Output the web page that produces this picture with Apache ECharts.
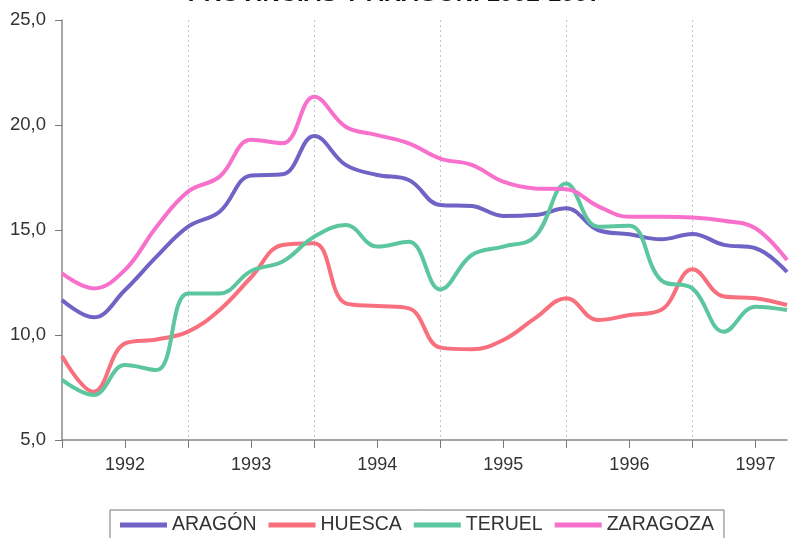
<!DOCTYPE html>
<html>
<head>
<meta charset="utf-8">
<script src="https://cdn.jsdelivr.net/npm/echarts@6/dist/echarts.min.js"></script>
<style>
  html, body { margin: 0; padding: 0; background: #fff; }
  #chart { width: 789px; height: 538px; }
</style>
</head>
<body>
<div id="chart"></div>
<script>
// trimestres 1992-1997
const years = ['1992', '1993', '1994', '1995', '1996', '1997'];
const quarters = [];
years.forEach(y => { ['I', 'II', 'III', 'IV'].forEach(q => quarters.push(y + '-' + q)); });

const aragon = [11.67, 10.84, 12.14, 13.73, 15.16, 15.87, 17.6, 17.65, 19.48, 18.1, 17.62, 17.38,
                16.19, 16.14, 15.67, 15.71, 16.03, 15.0, 14.8, 14.56, 14.81, 14.29, 14.13, 13.0];
const huesca = [9.0, 7.3, 9.6, 9.79, 10.16, 11.19, 12.75, 14.29, 14.37, 11.51, 11.38, 11.27,
                9.4, 9.32, 9.76, 10.79, 11.75, 10.71, 10.95, 11.19, 13.13, 11.83, 11.75, 11.43];
const teruel = [7.86, 7.14, 8.57, 8.33, 11.98, 11.98, 13.05, 13.5, 14.68, 15.24, 14.21, 14.44,
                12.17, 13.81, 14.21, 14.68, 17.22, 15.16, 15.2, 12.62, 12.22, 10.16, 11.35, 11.19];
const zaragoza = [12.94, 12.22, 13.1, 15.16, 16.83, 17.54, 19.3, 19.13, 21.35, 19.92, 19.52, 19.13,
                  18.4, 18.1, 17.3, 16.98, 16.94, 16.14, 15.63, 15.63, 15.6, 15.44, 15.08, 13.57];

const yTicks = { min: 5, max: 25, step: 5 };

const chart = echarts.init(document.getElementById('chart'));

function serie(name, data, color) {
  return {
    name: name,
    type: 'line',
    data: data,
    smooth: 0.4,
    symbol: 'none',
    lineStyle: { color: color, width: 4 },
    itemStyle: { color: color }
  };
}

chart.setOption({
  animation: false,
  title: {
    text: 'PROVINCIAS Y ARAGÓN. 1992-1997',
    left: 'center',
    top: -23,
    textStyle: { fontFamily: 'Liberation Sans', fontSize: 24, fontWeight: 'bold', color: '#111' }
  },
  grid: { left: 62, right: 2, top: 20, bottom: 98 },
  legend: {
    top: 510,
    left: 110,
    padding: [5, 10, 20, 10],
    borderColor: '#777',
    borderWidth: 1,
    itemGap: 12,
    itemWidth: 47,
    itemHeight: 5,
    icon: 'rect',
    textStyle: { fontFamily: 'Liberation Sans', fontSize: 19.5, color: '#333' },
    data: ['ARAGÓN', 'HUESCA', 'TERUEL', 'ZARAGOZA']
  },
  xAxis: {
    type: 'category',
    data: quarters,
    boundaryGap: false,
    axisLine: { lineStyle: { color: '#888', width: 1.5 } },
    axisTick: { show: true, length: 8, interval: i => i % 2 === 0, lineStyle: { color: '#777' } },
    axisLabel: {
      interval: i => i % 4 === 2,
      formatter: v => v.split('-')[0],
      fontFamily: 'Liberation Sans',
      fontSize: 18,
      color: '#333',
      margin: 16
    },
    splitLine: {
      show: true,
      interval: i => i % 4 === 0 && i > 0,
      lineStyle: { color: '#c4c4c4', type: [2, 3], width: 1 }
    }
  },
  yAxis: {
    type: 'value',
    min: yTicks.min,
    max: yTicks.max,
    interval: yTicks.step,
    axisLine: { show: true, lineStyle: { color: '#888', width: 1.5 } },
    axisTick: { show: true, length: 7, lineStyle: { color: '#777' } },
    splitLine: { show: false },
    axisLabel: {
      formatter: v => v.toFixed(1).replace('.', ','),
      fontFamily: 'Liberation Sans',
      fontSize: 18.5,
      color: '#333',
      margin: 16
    }
  },
  series: [
    serie('ARAGÓN', aragon, '#6f63c6'),
    serie('HUESCA', huesca, '#f8707e'),
    serie('TERUEL', teruel, '#5cc69e'),
    serie('ZARAGOZA', zaragoza, '#f770cc')
  ]
});
</script>
</body>
</html>
